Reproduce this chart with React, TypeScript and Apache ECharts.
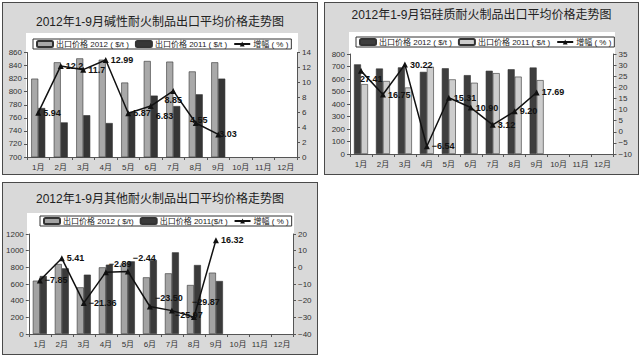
import React, { useEffect, useRef } from "react";
import * as echarts from "echarts";

const months = ["1月", "2月", "3月", "4月", "5月", "6月", "7月", "8月", "9月", "10月", "11月", "12月"];

// Chart 1: 碱性耐火制品
const alkTitle = "2012年1-9月碱性耐火制品出口平均价格走势图";
const alkNames = ["出口价格 2012 ( $/t )", "出口价格 2011 ( $/t )", "增幅 ( % )"];
const alk2012 = [820, 845, 851, 849, 814, 847, 846, 831, 845];
const alk2011 = [775, 753, 764, 752, 769, 794, 778, 796, 820];
const alkGrowth = ["5.94", "12.2", "11.7", "12.99", "5.87", "6.83", "8.85", "4.55", "3.03"];
const alkLeftAxis = { min: 700, max: 860, interval: 20 };
const alkRightAxis = { min: 0, max: 14, interval: 2 };

// Chart 2: 铝硅质耐火制品
const alTitle = "2012年1-9月铝硅质耐火制品出口平均价格走势图";
const alNames = ["出口价格 2012 ( $/t )", "出口价格 2011 ( $/t )", "增幅 ( % )"];
const al2012 = [717, 684, 693, 657, 686, 631, 666, 678, 692];
const al2011 = [559, 584, 532, 698, 597, 570, 647, 619, 591];
const alGrowth = ["27.41", "16.75", "30.22", "-6.54", "15.31", "10.90", "3.12", "9.20", "17.69"];
const alLeftAxis = { min: 0, max: 800, interval: 100 };
const alRightAxis = { min: -10, max: 35, interval: 5 };

// Chart 3: 其他耐火制品
const othTitle = "2012年1-9月其他耐火制品出口平均价格走势图";
const othNames = ["出口价格 2012 ( $/t)", "出口价格 2011($/t )", "增幅 ( % )"];
const oth2012 = [640, 840, 560, 800, 848, 680, 728, 588, 736];
const oth2011 = [696, 788, 712, 832, 872, 888, 980, 828, 636];
const othGrowth = ["-7.85", "5.41", "-21.36", "-2.89", "-2.44", "-23.50", "-25.97", "-29.87", "16.32"];
const othLeftAxis = { min: 0, max: 1200, interval: 200 };
const othRightAxis = { min: -40, max: 20, interval: 10 };

const FONT = '"Liberation Sans", "Noto Sans CJK SC", sans-serif';
const LIGHT = "#a9a9a9";
const DARK = "#363636";

type LabelPos = { position: string; offset?: number[] };

type ChartCfg = {
  title: string;
  titleTop: number;
  names: string[];
  a: number[];
  b: number[];
  aColor: string;
  bColor: string;
  growth: string[];
  left: { min: number; max: number; interval: number };
  right: { min: number; max: number; interval: number };
  grid: { left: number; top: number; width: number; height: number };
  white: { x: number; y: number; width: number; height: number };
  legend: { left: number; top: number };
  labels: LabelPos[];
};

const minus = (v: any) => String(v).replace("-", "−");

function buildOption(c: ChartCfg): any {
  const axisLine = { show: true, lineStyle: { color: "#555", width: 1 } };
  const axisTick = { show: true, length: 3, lineStyle: { color: "#555" } };
  const axisLabel = { color: "#333", fontSize: 8, fontFamily: FONT, margin: 5 };
  return {
    animation: false,
    backgroundColor: "transparent",
    title: {
      text: c.title,
      left: "center",
      top: c.titleTop,
      padding: 0,
      textStyle: { fontSize: 12, fontWeight: "normal", color: "#222", fontFamily: FONT },
    },
    graphic: {
      elements: [
        {
          type: "rect",
          z: -10,
          silent: true,
          shape: { x: c.white.x, y: c.white.y, width: c.white.width, height: c.white.height },
          style: { fill: "#ffffff" },
        },
      ],
    },
    legend: {
      left: c.legend.left,
      top: c.legend.top,
      padding: [1, 3, 1, 3],
      itemGap: 6,
      itemWidth: 16,
      itemHeight: 6,
      backgroundColor: "#fff",
      borderColor: "#333",
      borderWidth: 1,
      textStyle: { fontSize: 8, color: "#222", fontFamily: FONT, padding: [0, 0, 0, -2] },
      data: c.names,
    },
    grid: { left: c.grid.left, top: c.grid.top, width: c.grid.width, height: c.grid.height, containLabel: false },
    xAxis: {
      type: "category",
      data: months,
      axisLine,
      axisTick: { show: true, length: 3, lineStyle: { color: "#555" } },
      axisLabel: { color: "#333", fontSize: 8, fontFamily: FONT, margin: 6, interval: 0 },
    },
    yAxis: [
      {
        type: "value",
        min: c.left.min,
        max: c.left.max,
        interval: c.left.interval,
        axisLine,
        axisTick,
        splitLine: { show: false },
        axisLabel: { ...axisLabel, formatter: minus },
      },
      {
        type: "value",
        position: "right",
        min: c.right.min,
        max: c.right.max,
        interval: c.right.interval,
        axisLine,
        axisTick,
        splitLine: { show: false },
        axisLabel: { ...axisLabel, formatter: minus },
      },
    ],
    series: [
      {
        name: c.names[0],
        type: "bar",
        yAxisIndex: 0,
        data: c.a,
        barWidth: 7,
        barGap: "0%",
        itemStyle: { color: c.aColor, borderColor: "#333", borderWidth: 0.6 },
        z: 2,
      },
      {
        name: c.names[1],
        type: "bar",
        yAxisIndex: 0,
        data: c.b,
        barWidth: 7,
        barGap: "0%",
        itemStyle: { color: c.bColor, borderColor: "#333", borderWidth: 0.6 },
        z: 2,
      },
      {
        name: c.names[2],
        type: "line",
        yAxisIndex: 1,
        symbol: "triangle",
        symbolSize: 6,
        lineStyle: { color: "#111", width: 1.5 },
        itemStyle: { color: "#111" },
        z: 5,
        data: c.growth.map((g, i) => ({
          value: Number(g),
          label: {
            show: true,
            formatter: minus(g),
            position: c.labels[i].position,
            offset: c.labels[i].offset || [0, 0],
            distance: 2,
            fontSize: 9,
            fontWeight: "bold",
            color: "#111",
            fontFamily: FONT,
          },
        })),
      },
    ],
  };
}

const R: LabelPos = { position: "right" };

const charts: { box: { left: number; top: number; width: number; height: number }; cfg: ChartCfg }[] = [
  {
    box: { left: 2, top: 2, width: 316, height: 173 },
    cfg: {
      title: alkTitle,
      titleTop: 13,
      names: alkNames,
      a: alk2012,
      b: alk2011,
      aColor: LIGHT,
      bColor: DARK,
      growth: alkGrowth,
      left: alkLeftAxis,
      right: alkRightAxis,
      grid: { left: 24, top: 49.5, width: 270, height: 104.5 },
      white: { x: 23, y: 30, width: 272, height: 124 },
      legend: { left: 30, top: 36 },
      labels: [R, R, R, R, R, { position: "right", offset: [0, 10] }, { position: "bottom" }, { position: "inside", offset: [3, -3] }, { position: "right", offset: [-4, 0] }],
    },
  },
  {
    box: { left: 324, top: 2, width: 315, height: 173 },
    cfg: {
      title: alTitle,
      titleTop: 6,
      names: alNames,
      a: al2012,
      b: al2011,
      aColor: "#3e3e3e",
      bColor: "#cdcdcd",
      growth: alGrowth,
      left: alLeftAxis,
      right: alRightAxis,
      grid: { left: 25, top: 51, width: 263.5, height: 100 },
      white: { x: 24, y: 29, width: 266, height: 122 },
      legend: { left: 31, top: 34 },
      labels: [{ position: "right", offset: [-6, 8] }, R, R, R, R, R, R, R, R],
    },
  },
  {
    box: { left: 2, top: 182, width: 316, height: 173 },
    cfg: {
      title: othTitle,
      titleTop: 10,
      names: othNames,
      a: oth2012,
      b: oth2011,
      aColor: "#a3a3a3",
      bColor: "#3a3a3a",
      growth: othGrowth,
      left: othLeftAxis,
      right: othRightAxis,
      grid: { left: 25, top: 51, width: 265, height: 100 },
      white: { x: 24, y: 30, width: 267, height: 121 },
      legend: { left: 37, top: 33 },
      labels: [R, R, R, { position: "right", offset: [-2, -8] }, { position: "right", offset: [0, -13] }, { position: "right", offset: [0, -9] }, { position: "right", offset: [-2, 4] }, { position: "top", offset: [12, -6] }, R],
    },
  },
];

function Panel({ box, cfg }: { box: any; cfg: ChartCfg }) {
  const ref = useRef<HTMLDivElement>(null);
  useEffect(() => {
    if (!ref.current) return;
    const chart = echarts.init(ref.current, undefined, { renderer: "svg" });
    chart.setOption(buildOption(cfg));
    return () => chart.dispose();
  }, []);
  return (
    <div
      style={{
        position: "absolute",
        left: box.left,
        top: box.top,
        width: box.width,
        height: box.height,
        boxSizing: "border-box",
        border: "1px solid #4a4a4a",
        background: "#d9d9d9",
      }}
    >
      <div ref={ref} style={{ width: box.width - 2, height: box.height - 2 }} />
    </div>
  );
}

export default function App() {
  return (
    <div style={{ position: "absolute", left: 0, top: 0, width: 642, height: 359, background: "#fff", overflow: "hidden" }}>
      {charts.map((c, i) => (
        <Panel key={i} box={c.box} cfg={c.cfg} />
      ))}
    </div>
  );
}
